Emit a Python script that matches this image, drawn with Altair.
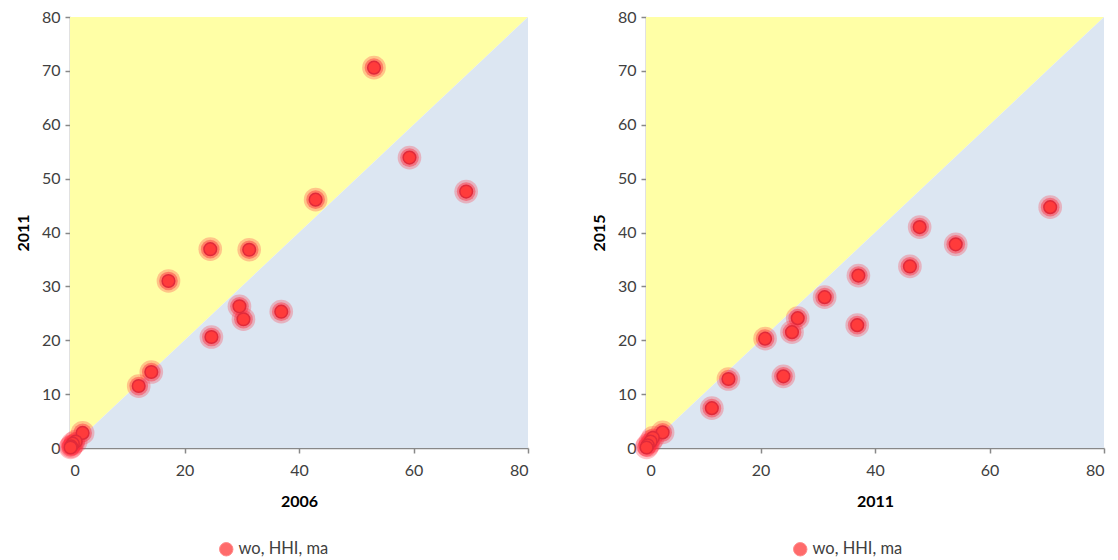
import altair as alt
import pandas as pd

# ---- data ----
x2006 = [53.1, 59.3, 69.2, 42.9, 24.5, 31.3, 17.2, 29.6, 30.3, 36.9, 24.7, 14.2, 12.0, 2.2, 1.0, 0.5, 0.2, 0.1]
y2011a = [70.6, 53.9, 47.6, 46.1, 36.9, 36.8, 31.0, 26.3, 23.9, 25.3, 20.6, 14.1, 11.5, 2.8, 1.2, 0.8, 0.3, 0.1]

x2011 = [70.6, 47.8, 54.1, 46.1, 37.1, 31.2, 26.5, 25.5, 36.9, 20.8, 24.0, 14.4, 11.5, 2.9, 1.2, 0.8, 0.3, 0.1]
y2015 = [44.7, 41.0, 37.8, 33.7, 32.0, 28.0, 24.1, 21.5, 22.8, 20.3, 13.3, 12.8, 7.4, 2.9, 1.9, 1.2, 0.5, 0.1]

series_name = "wo, HHI, ma"
diag = [0, 80]
y_ticks = [0, 10, 20, 30, 40, 50, 60, 70, 80]
x_ticks = [0, 20, 40, 60, 80]

FONT = "Lato"
W, H = 458, 431


def panel(xs, ys, xtitle, ytitle, legend_x):
    pts = pd.DataFrame({"x": xs, "y": ys, "s": [series_name] * len(xs)})
    tri = pd.DataFrame({"x": diag, "y": diag, "top": [80, 80], "bot": [0, 0]})

    xsc = alt.Scale(domain=[0, 80], nice=False)
    ysc = alt.Scale(domain=[0, 80], nice=False)
    xax = alt.Axis(values=x_ticks, title=xtitle, grid=False)
    yax = alt.Axis(values=y_ticks, title=ytitle, grid=False)

    yellow = alt.Chart(tri).mark_area(color="#FFFFA6", opacity=1).encode(
        x=alt.X("x:Q", scale=xsc, axis=xax),
        y=alt.Y("y:Q", scale=ysc, axis=yax),
        y2="top:Q",
    )
    blue = alt.Chart(tri).mark_area(color="#DCE6F2", opacity=1).encode(
        x=alt.X("x:Q", scale=xsc),
        y=alt.Y("y:Q", scale=ysc),
        y2="bot:Q",
    )
    halo1 = alt.Chart(pts).mark_circle(color="#ff2a3c", opacity=0.28, size=560).encode(
        x=alt.X("x:Q", scale=xsc), y=alt.Y("y:Q", scale=ysc)
    )
    halo2 = alt.Chart(pts).mark_circle(color="#ff2a3c", opacity=0.45, size=350).encode(
        x=alt.X("x:Q", scale=xsc), y=alt.Y("y:Q", scale=ysc)
    )
    core = alt.Chart(pts).mark_point(
        shape="circle", filled=True, size=160, fill="#ff3b3b", stroke="#e02a3a",
        strokeWidth=1.5, opacity=1
    ).encode(
        x=alt.X("x:Q", scale=xsc),
        y=alt.Y("y:Q", scale=ysc),
        color=alt.Color(
            "s:N",
            scale=alt.Scale(domain=[series_name], range=["#ff6b6b"]),
            legend=alt.Legend(
                orient="none", legendX=legend_x, legendY=524, title=None,
                labelFont=FONT, labelFontSize=16.5, labelColor="#404040",
                symbolType="circle", symbolSize=180, symbolFillColor="#ff6b6b",
                symbolStrokeColor="#ff8a8a", symbolStrokeWidth=1, symbolOpacity=1,
                labelOffset=4,
            ),
        ),
    )
    return alt.layer(yellow, blue, halo1, halo2, core).properties(width=W, height=H)


left = panel(x2006, y2011a, "2006", "2011", 148)
right = panel(x2011, y2015, "2011", "2015", 146)

chart = (
    alt.hconcat(left, right, spacing=62)
    .resolve_scale(color="independent")
    .resolve_legend(color="independent")
    .properties(padding={"left": 7, "top": 1, "right": 5, "bottom": 0})
    .configure_view(stroke=None)
    .configure_axis(
        labelFont=FONT, labelFontSize=16, labelColor="#404040",
        titleFont=FONT, titleFontSize=16, titleFontWeight="bold", titleColor="#000000",
        domainColor="#888888", domainWidth=1.5, tickColor="#888888", tickWidth=1.5,
        tickSize=5,
    )
    .configure_axisY(titlePadding=10, labelPadding=5)
    .configure_axisX(titlePadding=15, labelPadding=9)
)

chart.save("out.html", embed_options={"renderer": "svg", "actions": False})
